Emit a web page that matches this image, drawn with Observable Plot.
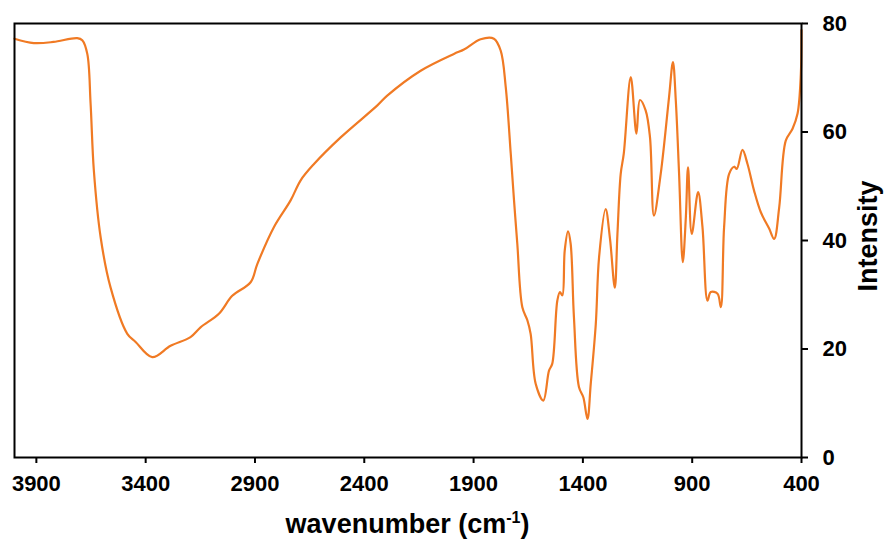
<!DOCTYPE html>
<html><head><meta charset="utf-8">
<script src="https://cdn.jsdelivr.net/npm/d3@7"></script>
<script src="https://cdn.jsdelivr.net/npm/@observablehq/plot@0.6"></script>
<style>body{margin:0;background:#fff;}</style>
</head><body><div id="chart"></div>
<script>
const wavenumber = [4000,3912,3822,3713,3690,3667,3652,3637,3606,3561,3484,3446,3370,3286,3195,3149,3065,3004,2920,2889,2813,2737,2691,2630,2508,2340,2295,2142,1990,1944,1868,1807,1776,1753,1730,1715,1700,1677,1654,1639,1616,1581,1555,1540,1517,1505,1494,1483,1468,1456,1441,1418,1398,1379,1364,1341,1326,1296,1276,1254,1242,1227,1213,1181,1155,1139,1113,1093,1075,1044,1006,988,975,960,943,929,919,902,873,853,830,815,784,769,754,731,708,696,670,647,617,586,548,525,502,472,441,418,403,400];
const intensity = [77.2,76.4,76.6,77.3,76.9,74.4,65.3,52.9,40.6,31.4,22.8,21.3,18.5,20.6,22.2,24.0,26.5,29.8,32.3,35.7,42.5,47.4,51.1,54.1,59.0,64.9,66.7,71.3,74.4,75.2,77.1,77.2,75.0,68.3,56.0,47.4,39.4,27.7,25.3,22.8,13.6,10.5,16.0,17.3,28.9,30.5,29.9,38.2,41.7,39.4,25.9,13.0,11.1,7.1,13.6,24.6,36.9,45.8,40.3,31.3,41.2,52.3,56.0,70.1,59.7,65.9,64.0,59.0,44.6,52.3,66.4,72.9,65.8,52.3,36.0,44.3,53.5,41.2,48.9,42.5,28.9,30.5,30.2,27.7,42.5,52.3,53.6,53.2,56.7,54.1,49.2,45.2,42.2,40.3,46.1,58.4,60.6,63.4,70.7,78.8];
const xTicks = [3900,3400,2900,2400,1900,1400,900,400];
const yTicks = [0,20,40,60,80];
const xLabel = ["wavenumber (cm", "-1", ")"];
const yLabel = "Intensity";

const data = wavenumber.map((w, i) => ({w, v: intensity[i]}));
const W = 890, H = 539, mL = 14, mR = 89, mT = 23, mB = 82;
const font = "'Liberation Sans', Arial, sans-serif";

const plot = Plot.plot({
  width: W, height: H,
  marginLeft: mL, marginRight: mR, marginTop: mT, marginBottom: mB,
  style: {fontFamily: font, fontSize: "22px", fontWeight: "bold", color: "#000", background: "#fff"},
  x: {domain: [4000, 400], label: null},
  y: {domain: [0, 80], label: null},
  marks: [
    Plot.line(data, {x: "w", y: "v", stroke: "#F07A24", strokeWidth: 2.2, curve: "catmull-rom"}),
    Plot.frame({stroke: "#000", strokeWidth: 2}),
    Plot.axisX({ticks: xTicks, tickFormat: d => String(d), tickSize: 6, tickPadding: 12, strokeWidth: 2, label: null}),
    Plot.axisY({anchor: "right", ticks: yTicks, tickFormat: d => String(d), tickSize: 6, tickPadding: 15, strokeWidth: 2, label: null})
  ]
});

const svg = d3.select(plot);
const t = svg.append("text")
  .attr("x", (mL + W - mR) / 2).attr("y", 533)
  .attr("text-anchor", "middle")
  .attr("font-family", font).attr("font-size", 27).attr("font-weight", "bold").attr("fill", "#000");
t.append("tspan").text(xLabel[0]);
t.append("tspan").attr("font-size", 16).attr("dy", -10).text(xLabel[1]);
t.append("tspan").attr("dy", 10).text(xLabel[2]);

svg.append("text")
  .attr("transform", "translate(877,236) rotate(-90)")
  .attr("text-anchor", "middle")
  .attr("font-family", font).attr("font-size", 27).attr("font-weight", "bold").attr("fill", "#000")
  .text(yLabel);

document.getElementById("chart").appendChild(plot);
</script>
</body></html>
